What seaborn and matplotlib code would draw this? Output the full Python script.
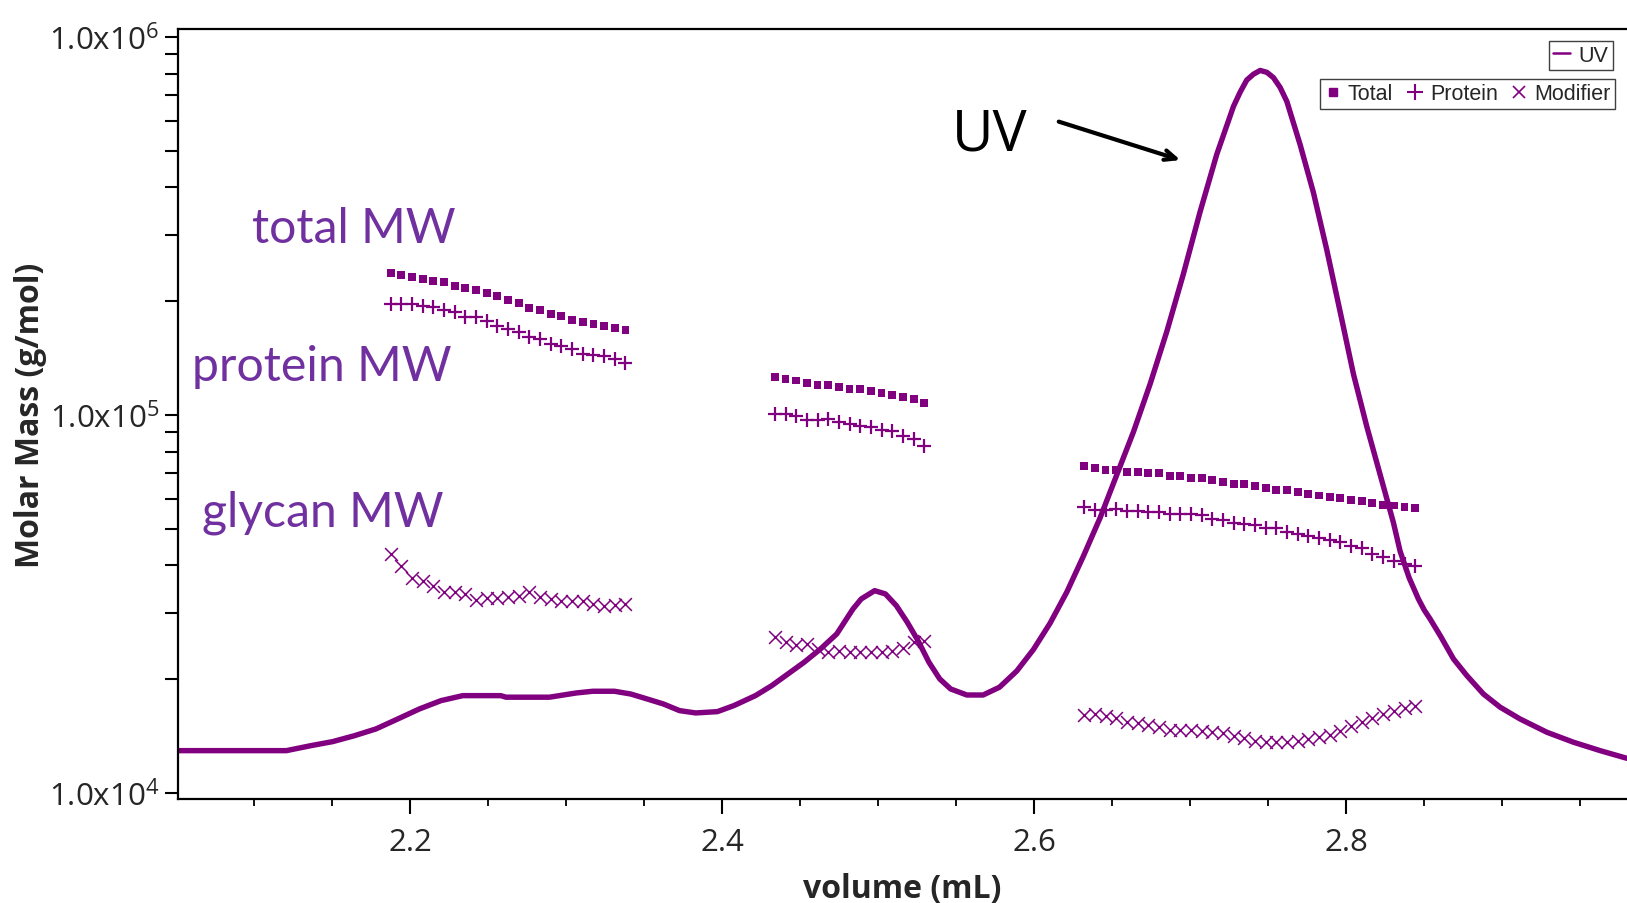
import numpy as np
import pandas as pd
import matplotlib
matplotlib.use("Agg")
import matplotlib.pyplot as plt
import seaborn as sns
from matplotlib.lines import Line2D
from matplotlib.ticker import FixedLocator, MultipleLocator, LogLocator, NullFormatter

# ---------------- data ----------------
uv_x = [2.0513, 2.1208, 2.1365, 2.1504, 2.1643, 2.1782, 2.1921, 2.2060, 2.2199, 2.2338,
        2.2581, 2.2615, 2.2894, 2.3067, 2.3172, 2.3310, 2.3415, 2.3519, 2.3623, 2.3728,
        2.3831, 2.3970, 2.4075, 2.4214, 2.4318, 2.4422, 2.4526, 2.4631, 2.4735, 2.4839,
        2.4892, 2.4978, 2.5047, 2.5117, 2.5187, 2.5256, 2.5326, 2.5395, 2.5465, 2.5569,
        2.5673, 2.5778, 2.5889, 2.5996, 2.6103, 2.6210, 2.6316, 2.6423, 2.6530, 2.6637,
        2.6744, 2.6851, 2.6957, 2.7064, 2.7171, 2.7278, 2.7321, 2.7363, 2.7406, 2.7449,
        2.7492, 2.7534, 2.7577, 2.7620,
        2.7705, 2.7790, 2.7876, 2.7962, 2.8047, 2.8133, 2.8218, 2.8303, 2.8346, 2.8404,
        2.8463, 2.8500,
        2.8538, 2.8603, 2.8688, 2.8774, 2.8880, 2.8987, 2.9115, 2.9287, 2.9457, 2.9628,
        2.9799]
uv_y = [12940, 12940, 13340, 13670, 14170, 14770, 15690, 16680, 17550, 18090,
        18090, 17920, 17920, 18390, 18580, 18580, 18270, 17730, 17200, 16510,
        16280, 16410, 17020, 18090, 19220, 20640, 22170, 24040, 26340, 30670,
        32600, 34290, 33610, 31300, 28290, 25290, 22170, 20030, 18840, 18160,
        18160, 19040, 21020, 23970, 28150, 34020, 42320, 53440, 69470, 90260,
        120880, 166490, 236200, 344900, 489500, 655300, 715000, 769100, 797000, 815400,
        806000, 780400, 735000, 674800,
        518900, 387800, 273200, 187100, 128100, 92950, 69470, 51890, 43570, 37050,
        32600, 30490,
        28860, 26070, 22620, 20430, 18270, 16860, 15690, 14470, 13620, 12940,
        12350]

vol_left = [2.1876, 2.1944, 2.2013, 2.2081, 2.2150, 2.2218, 2.2286, 2.2355, 2.2423, 2.2492,
            2.2560, 2.2628, 2.2697, 2.2765, 2.2834, 2.2902, 2.2970, 2.3039, 2.3107, 2.3176,
            2.3244, 2.3312, 2.3381]
vol_mid = [2.4338, 2.4407, 2.4475, 2.4544, 2.4612, 2.4680, 2.4749, 2.4817, 2.4886, 2.4954,
           2.5022, 2.5091, 2.5159, 2.5228, 2.5296]
vol_right = [2.6322, 2.6390, 2.6458, 2.6527, 2.6595, 2.6664, 2.6732, 2.6800, 2.6869, 2.6937,
             2.7006, 2.7074, 2.7142, 2.7211, 2.7279, 2.7348, 2.7416, 2.7484, 2.7553, 2.7621,
             2.7690, 2.7758, 2.7826, 2.7895, 2.7963, 2.8032, 2.8100, 2.8168, 2.8237, 2.8305,
             2.8374, 2.8442]

total_left = [237600, 235100, 232200, 229000, 226600, 225200, 219800, 217200, 214500, 209900,
              206400, 201800, 197400, 192300, 190000, 185000, 182800, 178700, 176600, 174100,
              172000, 170200, 168200]
protein_left = [196600, 196600, 196600, 194600, 192700, 190000, 186900, 181400, 181400, 177600,
                172300, 168900, 165500, 160500, 158900, 154100, 152500, 149500, 145000, 144100,
                143000, 140700, 137100]
modifier_left = [42900, 39930, 36980, 36440, 35230, 33960, 33960, 33610, 32460, 32740,
                 32740, 32940, 33270, 33960, 32940, 32600, 32260, 32260, 32260, 31620,
                 31180, 31440, 31620]

total_mid = [126300, 124500, 123300, 121500, 120300, 120300, 118800, 117200, 117200, 115700,
             114600, 113200, 111600, 110200, 107800]
protein_mid = [100600, 100600, 99200, 97000, 97000, 97600, 96000, 94700, 93700, 92800,
               91400, 90900, 88200, 86400, 82700]
modifier_mid = [25820, 25040, 24640, 24790, 24040, 23560, 23710, 23560, 23560, 23560,
                23660, 23800, 24140, 25040, 25290]

total_right = [73400, 72400, 71500, 71500, 70800, 70800, 70100, 70100, 69100, 68800,
               68200, 68200, 67400, 66600, 65700, 65700, 65000, 64100, 63400, 63400,
               62600, 61900, 61200, 60600, 60200, 59700, 59100, 58400, 57800, 57600,
               57000, 56800]
protein_right = [57000, 56100, 56100, 56400, 55800, 55800, 55300, 55300, 54700, 54700,
                 54700, 54200, 53100, 52600, 51800, 51500, 51000, 50300, 50300, 49100,
                 48400, 47900, 47200, 46800, 46100, 45100, 44400, 42900, 42000, 41200,
                 40400, 39800]
modifier_right = [16080, 16180, 15950, 15760, 15440, 15290, 15160, 14920, 14710, 14710,
                  14650, 14620, 14530, 14380, 14180, 13950, 13750, 13610, 13610, 13670,
                  13750, 13890, 14040, 14240, 14620, 15010, 15440, 15760, 16180, 16510,
                  16790, 17020]

x_ticks = [2.2, 2.4, 2.6, 2.8]
x_tick_labels = ["2.2", "2.4", "2.6", "2.8"]
y_ticks = [1e4, 1e5, 1e6]
y_tick_labels = [r"1.0x10$^{4}$", r"1.0x10$^{5}$", r"1.0x10$^{6}$"]

# ---------------- style ----------------
PURPLE = "#800080"
TEXT_PURPLE = "#7030A0"

sns.set_style("ticks")
plt.rcParams["font.family"] = ["Open Sans", "DejaVu Sans"]
plt.rcParams["mathtext.fontset"] = "custom"
plt.rcParams["mathtext.rm"] = "Open Sans"
plt.rcParams["mathtext.it"] = "Open Sans"
plt.rcParams["mathtext.bf"] = "Open Sans:bold"

fig = plt.figure(figsize=(16.27, 9.04), dpi=100)
ax = fig.add_axes([178 / 1627, 104 / 904, 1449 / 1627, 770 / 904])
ax.set_yscale("log")

uv_df = pd.DataFrame({"volume": uv_x, "mass": uv_y})
sns.lineplot(data=uv_df, x="volume", y="mass", ax=ax, color=PURPLE, lw=3.9,
             sort=False, estimator=None, zorder=2)

vol_all = vol_left + vol_mid + vol_right
total_all = total_left + total_mid + total_right
protein_all = protein_left + protein_mid + protein_right
modifier_all = modifier_left + modifier_mid + modifier_right

sns.scatterplot(x=vol_all, y=total_all, ax=ax, marker="s", s=32, color=PURPLE,
                edgecolor="none", linewidth=0, zorder=3)
sns.scatterplot(x=vol_all, y=protein_all, ax=ax, marker="+", s=95, color=PURPLE,
                linewidth=1.6, zorder=3)
sns.scatterplot(x=vol_all, y=modifier_all, ax=ax, marker="x", s=85, color=PURPLE,
                linewidth=1.1, zorder=3)

ax.set_xlim(2.0513, 2.98)
ax.set_ylim(10 ** 3.984, 10 ** 6.021)

# ticks
ax.xaxis.set_major_locator(FixedLocator(x_ticks))
ax.set_xticklabels(x_tick_labels)
ax.xaxis.set_minor_locator(MultipleLocator(0.05))
ax.yaxis.set_major_locator(FixedLocator(y_ticks))
ax.set_yticklabels(y_tick_labels)
ax.yaxis.set_minor_locator(LogLocator(base=10, subs=np.arange(2, 10)))
ax.yaxis.set_minor_formatter(NullFormatter())
ax.tick_params(axis="x", which="major", direction="out", length=11, width=1.5,
               labelsize=22.5, pad=9, color="black")
ax.tick_params(axis="x", which="minor", direction="out", length=5, width=1.3, color="black")
ax.tick_params(axis="y", which="both", direction="out", length=9.5, width=1.5,
               labelsize=22.5, pad=4, color="black")

for side in ["left", "bottom", "top"]:
    ax.spines[side].set_linewidth(1.6)
    ax.spines[side].set_color("black")
ax.spines["right"].set_visible(False)

ax.set_xlabel("volume (mL)", fontsize=23, fontweight="bold", labelpad=11)
ax.set_ylabel("Molar Mass (g/mol)", fontsize=23, fontweight="bold", labelpad=1)

# annotations
ax.text(2.0987, 286900, "total MW", fontsize=34.7, color=TEXT_PURPLE,
        family=["Lato", "DejaVu Sans"], va="baseline", ha="left")
ax.text(2.0603, 123900, "protein MW", fontsize=34.7, color=TEXT_PURPLE,
        family=["Lato", "DejaVu Sans"], va="baseline", ha="left")
ax.text(2.0667, 50850, "glycan MW", fontsize=34.7, color=TEXT_PURPLE,
        family=["Lato", "DejaVu Sans"], va="baseline", ha="left")
ax.text(2.5474, 504100, "UV", fontsize=41, color="black", va="baseline", ha="left")
ax.annotate("", xy=(2.6955, 470000), xytext=(2.6141, 600000),
            arrowprops=dict(arrowstyle="->,head_length=0.8,head_width=0.35",
                            color="black", lw=3))

# legends
leg_font = {"family": ["Liberation Sans", "DejaVu Sans"], "size": 15.5}
h1 = [Line2D([], [], color=PURPLE, lw=1.8)]
leg1 = ax.legend(h1, ["UV"], loc="upper right", bbox_to_anchor=(0.9903, 0.985),
                 frameon=True, fancybox=False, edgecolor="#404040", framealpha=1,
                 handlelength=0.8, handletextpad=0.4, borderpad=0.2,
                 borderaxespad=0, prop=leg_font)
leg1.get_frame().set_linewidth(1.0)
ax.add_artist(leg1)

h2 = [Line2D([], [], marker="s", ls="none", color=PURPLE, ms=6),
      Line2D([], [], marker="+", ls="none", color=PURPLE, ms=11, mew=1.5),
      Line2D([], [], marker="x", ls="none", color=PURPLE, ms=9, mew=1.2)]
leg2 = ax.legend(h2, ["Total", "Protein", "Modifier"], ncol=3, loc="upper right",
                 bbox_to_anchor=(0.9917, 0.935), frameon=True, fancybox=False,
                 edgecolor="#404040", framealpha=1, handlelength=0.8,
                 handletextpad=0.3, columnspacing=0.6, borderpad=0.2,
                 borderaxespad=0, prop=leg_font)
leg2.get_frame().set_linewidth(1.0)

fig.savefig("out.png", dpi=100)
